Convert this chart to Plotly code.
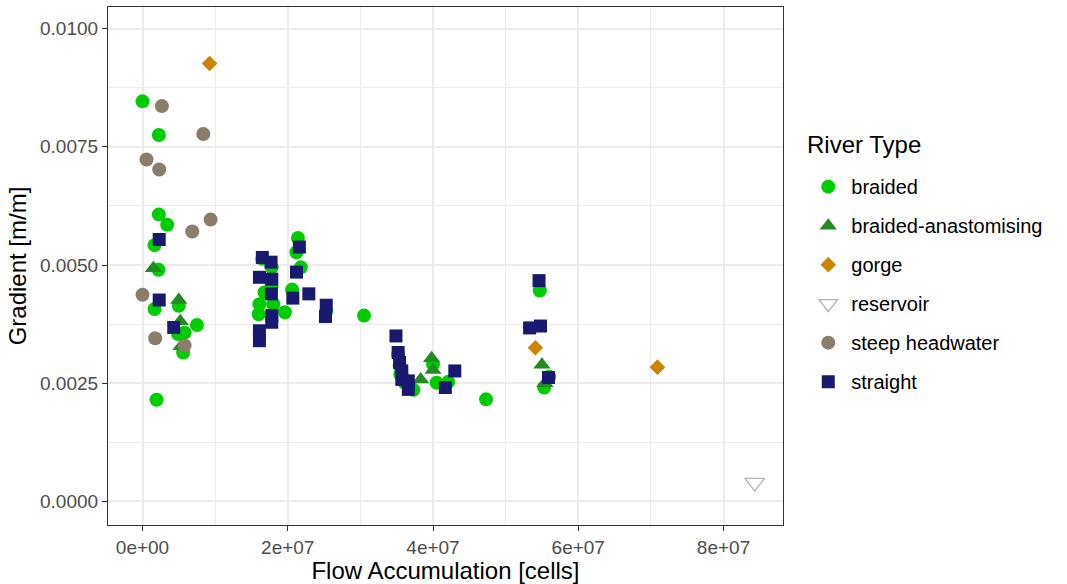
import plotly.graph_objects as go

# ---- data (flow accumulation in cells, gradient in m/m) ----
braided_x = [0.0e6, 2.25e6, 2.25e6, 3.4e6, 1.66e6, 2.2e6, 1.66e6, 5.0e6, 7.5e6, 4.9e6, 5.8e6, 5.6e6, 1.93e6,
             21.4e6, 21.2e6, 16.5e6, 17.8e6, 21.8e6, 17.75e6, 20.6e6, 16.8e6, 16.1e6, 18.0e6, 16.0e6, 19.6e6, 25.3e6, 30.5e6,
             35.2e6, 35.4e6, 35.5e6, 36.1e6, 37.3e6, 40.0e6, 40.5e6, 42.1e6, 47.3e6,
             54.7e6, 56.0e6, 55.3e6]
braided_y = [0.00846, 0.00775, 0.00607, 0.00585, 0.00542, 0.00490, 0.00407, 0.00414, 0.00373, 0.00354, 0.00357, 0.00315, 0.00215,
             0.00557, 0.00527, 0.00513, 0.00495, 0.00495, 0.00453, 0.00448, 0.00442, 0.00417, 0.00417, 0.00396, 0.00400, 0.00403, 0.00393,
             0.00311, 0.00287, 0.00269, 0.00251, 0.00236, 0.00290, 0.00251, 0.00253, 0.00216,
             0.00446, 0.00264, 0.00241]

anast_x = [1.5e6, 5.0e6, 5.2e6, 5.3e6, 38.3e6, 39.8e6, 40.0e6, 55.0e6, 55.4e6]
anast_y = [0.00493, 0.00426, 0.00381, 0.00328, 0.00258, 0.00303, 0.00278, 0.00289, 0.00250]

gorge_x = [9.24e6, 54.1e6, 70.9e6]
gorge_y = [0.00926, 0.00325, 0.00284]

reservoir_x = [84.3e6]
reservoir_y = [0.00040]

steep_x = [2.67e6, 8.37e6, 0.55e6, 2.3e6, 9.38e6, 6.85e6, 0.0e6, 1.75e6, 5.8e6]
steep_y = [0.00836, 0.00777, 0.00723, 0.00702, 0.00596, 0.00571, 0.00437, 0.00345, 0.00330]

straight_x = [2.3e6, 2.3e6, 4.3e6,
              21.6e6, 16.5e6, 17.7e6, 16.1e6, 17.8e6, 21.2e6, 17.75e6, 20.7e6, 22.9e6, 17.8e6, 17.8e6, 16.1e6, 16.1e6, 25.3e6, 25.2e6,
              34.9e6, 35.2e6, 35.4e6, 35.7e6, 35.7e6, 36.6e6, 36.6e6, 41.7e6, 43.0e6,
              54.6e6, 53.3e6, 54.8e6, 55.9e6]
straight_y = [0.00554, 0.00426, 0.00368,
              0.00538, 0.00516, 0.00506, 0.00474, 0.00470, 0.00485, 0.00439, 0.00430, 0.00439, 0.00393, 0.00379, 0.00361, 0.00340, 0.00415, 0.00391,
              0.00350, 0.00315, 0.00294, 0.00276, 0.00258, 0.00255, 0.00237, 0.00241, 0.00276,
              0.00467, 0.00367, 0.00371, 0.00262]

x_tickvals = [0, 2e7, 4e7, 6e7, 8e7]
x_ticktext = ["0e+00", "2e+07", "4e+07", "6e+07", "8e+07"]
y_tickvals = [0.0, 0.0025, 0.005, 0.0075, 0.01]

FONT = "Liberation Sans, Arial, sans-serif"

series = [
    ("braided", braided_x, braided_y, dict(symbol="circle", size=14, color="#00CD00")),
    ("braided-anastomising", anast_x, anast_y, dict(symbol="triangle-up", size=15, color="#228B22")),
    ("gorge", gorge_x, gorge_y, dict(symbol="diamond", size=12, color="#CD8500")),
    ("reservoir", reservoir_x, reservoir_y, dict(symbol="triangle-down-open", size=17, color="#B3B3B3",
                                                 line=dict(width=1.3, color="#B3B3B3"))),
    ("steep headwater", steep_x, steep_y, dict(symbol="circle", size=14, color="#8B7D6B")),
    ("straight", straight_x, straight_y, dict(symbol="square", size=13, color="#191970")),
]

fig = go.Figure()
for name, xs, ys, mk in series:
    if "line" not in mk:
        mk = dict(mk, line=dict(width=0))
    fig.add_trace(go.Scatter(x=xs, y=ys, mode="markers", name=name, marker=mk,
                             legendgroup=name))

fig.update_layout(
    width=1067, height=584,
    margin=dict(l=108, r=284, t=7, b=59, autoexpand=False),
    paper_bgcolor="white", plot_bgcolor="white",
    font=dict(family=FONT, color="black"),
    legend=dict(
        font=dict(size=20, color="black"),
        x=1.033, xanchor="left", y=0.465, yanchor="middle",
        tracegroupgap=10, traceorder="grouped", itemwidth=36,
        bgcolor="rgba(0,0,0,0)",
    ),
    showlegend=True,
    annotations=[dict(text="River Type", x=1.033, xref="paper", xanchor="left",
                      y=(525 - 144) / 518, yref="paper", yanchor="middle", showarrow=False,
                      font=dict(size=24, color="black"))],
)

fig.update_xaxes(
    range=[-4.75e6, 88.19e6], automargin=False,
    tickvals=x_tickvals, ticktext=x_ticktext,
    tickfont=dict(size=19, color="#4D4D4D"),
    ticks="outside", ticklen=5, tickwidth=1.2, tickcolor="#333333",
    showgrid=True, gridcolor="#EBEBEB", gridwidth=1.5,
    minor=dict(dtick=1e7, tick0=0, showgrid=True, gridcolor="#EBEBEB", gridwidth=0.8, ticks=""),
    showline=True, linecolor="#333333", linewidth=1.2, mirror=True,
    zeroline=False,
    title=dict(text="Flow Accumulation [cells]", font=dict(size=24, color="black"), standoff=4),
)
fig.update_yaxes(
    range=[-0.000497, 0.010455], automargin=False,
    tickvals=y_tickvals, tickformat=".4f",
    tickfont=dict(size=19, color="#4D4D4D"),
    ticks="outside", ticklen=5, tickwidth=1.2, tickcolor="#333333",
    showgrid=True, gridcolor="#EBEBEB", gridwidth=1.5,
    minor=dict(dtick=0.00125, tick0=0, showgrid=True, gridcolor="#EBEBEB", gridwidth=0.8, ticks=""),
    showline=True, linecolor="#333333", linewidth=1.2, mirror=True,
    zeroline=False,
    title=dict(text="Gradient [m/m]", font=dict(size=24, color="black"), standoff=6),
)

fig.write_html("out.html", config={"displayModeBar": False},
               post_script="document.body.style.margin='0';document.body.style.padding='0';")
